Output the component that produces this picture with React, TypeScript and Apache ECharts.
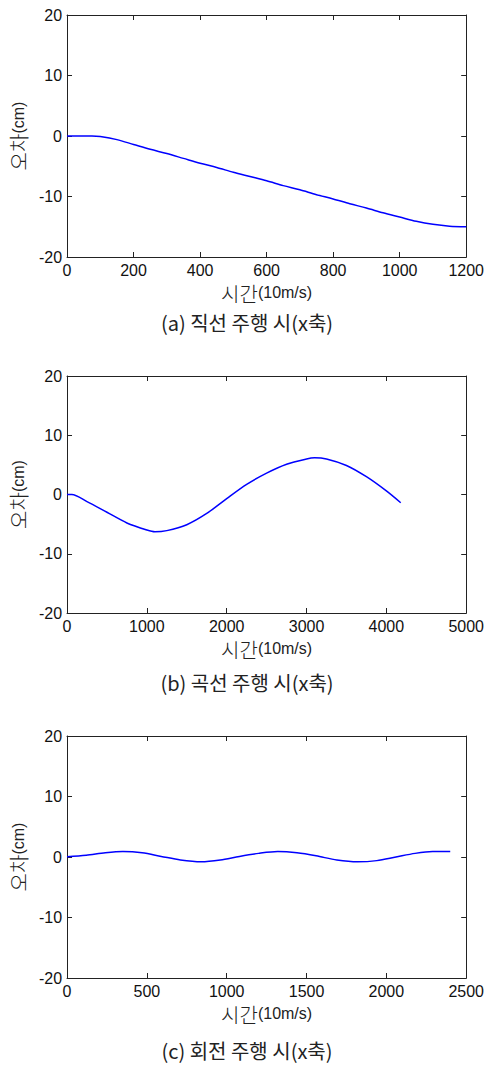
import React, { useEffect, useRef } from "react";
import * as echarts from "echarts";

// (a) 직선 주행 시(x축)
const straightX = [0, 50, 75, 100, 150, 200, 250, 300, 350, 400, 450, 500, 550, 600, 650, 700, 750, 800, 850, 900, 950, 1000, 1050, 1100, 1150, 1200];
const straightY = [0, 0, 0, -0.1, -0.6, -1.4, -2.2, -2.9, -3.7, -4.5, -5.2, -6.0, -6.7, -7.4, -8.2, -8.9, -9.7, -10.4, -11.2, -11.9, -12.7, -13.4, -14.1, -14.6, -14.9, -15.0];

// (b) 곡선 주행 시(x축)
const curveX = [0, 60, 250, 500, 750, 1000, 1100, 1250, 1500, 1750, 2000, 2250, 2500, 2750, 3000, 3100, 3250, 3500, 3750, 4000, 4180];
const curveY = [0, 0, -1.2, -3.0, -4.8, -6.0, -6.3, -6.1, -5.1, -3.2, -0.7, 1.7, 3.6, 5.1, 6.0, 6.2, 6.0, 4.9, 3.0, 0.6, -1.4];

// (c) 회전 주행 시(x축)
const rotX = [0, 120, 240, 350, 470, 590, 710, 840, 960, 1080, 1200, 1320, 1440, 1560, 1690, 1820, 1940, 2060, 2180, 2290, 2400];
const rotY = [0.05, 0.3, 0.7, 0.9, 0.7, 0.1, -0.5, -0.8, -0.5, 0.1, 0.6, 0.9, 0.7, 0.2, -0.5, -0.8, -0.6, 0.0, 0.6, 0.9, 0.9];

const xMax = [1200, 5000, 2500];
const xInterval = [200, 1000, 500];
const yTicks = { min: -20, max: 20, interval: 10 };
const captions = ["(a) 직선 주행 시(x축)", "(b) 곡선 주행 시(x축)", "(c) 회전 주행 시(x축)"];

const grids = [
  { left: 67, top: 15, width: 403, height: 242 },
  { left: 64, top: 376, width: 403, height: 237 },
  { left: 64, top: 736, width: 409, height: 242 },
];
const captionY = [322, 682, 1050];

export default function App() {
  const ref = useRef<HTMLDivElement>(null);
  useEffect(() => {
    document.body.style.margin = "0";
    const chart = echarts.init(ref.current!, null, { renderer: "svg" });
    const labelFont = {
      fontFamily: "Liberation Sans, Arial, sans-serif",
      fontSize: 16,
      color: "#111",
      formatter: (v: number) => String(v),
    };
    const nameRich = {
      k: { fontFamily: "Noto Sans CJK KR", fontSize: 20, color: "#222", fontWeight: 300 as any },
      e: { fontFamily: "Liberation Sans, Arial", fontSize: 16, color: "#222" },
    };
    const series: any[] = [];
    const xAxis: any[] = [];
    const yAxis: any[] = [];
    const datasets = [
      straightX.map((x, i) => [x, straightY[i]]),
      curveX.map((x, i) => [x, curveY[i]]),
      rotX.map((x, i) => [x, rotY[i]]),
    ];
    for (let g = 0; g < 3; g++) {
      const baseX = {
        type: "value",
        gridIndex: g,
        min: 0,
        max: xMax[g],
        interval: xInterval[g],
        splitLine: { show: false },
        axisLine: { show: true, onZero: false, lineStyle: { color: "#222", width: 1 } },
        axisTick: { show: true, inside: true, length: 5, lineStyle: { color: "#222" } },
      };
      xAxis.push({
        ...baseX,
        position: "bottom",
        axisLabel: { ...labelFont, margin: 5 },
        name: "{k|시간}{e|(10m/s)}",
        nameLocation: "middle",
        nameGap: 26,
        nameTextStyle: { rich: nameRich, color: "#222" },
      });
      xAxis.push({ ...baseX, position: "top", axisLabel: { show: false } });
      const baseY = {
        type: "value",
        gridIndex: g,
        min: yTicks.min,
        max: yTicks.max,
        interval: yTicks.interval,
        splitLine: { show: false },
        axisLine: { show: true, onZero: false, lineStyle: { color: "#222", width: 1 } },
        axisTick: { show: true, inside: true, length: 5, lineStyle: { color: "#222" } },
      };
      yAxis.push({
        ...baseY,
        position: "left",
        axisLabel: { ...labelFont, margin: 5 },
        name: "{k|오차}{e|(cm)}",
        nameLocation: "middle",
        nameGap: 39,
        nameRotate: 90,
        nameTextStyle: { rich: nameRich, color: "#222" },
      });
      yAxis.push({ ...baseY, position: "right", axisLabel: { show: false } });
      series.push({
        type: "line",
        xAxisIndex: 2 * g,
        yAxisIndex: 2 * g,
        data: datasets[g],
        showSymbol: false,
        smooth: 0.3,
        lineStyle: { color: "#0000ff", width: 1.5 },
      });
    }
    chart.setOption({
      animation: false,
      backgroundColor: "#fff",
      grid: grids.map((g) => ({ ...g, containLabel: false })),
      xAxis,
      yAxis,
      series,
      graphic: captions.map((c, i) => ({
        type: "text",
        x: 247,
        y: captionY[i],
        style: {
          text: c,
          fontFamily: "Noto Sans CJK KR",
          fontSize: 20,
          fill: "#222",
          align: "center",
          verticalAlign: "middle",
        },
      })),
    });
    return () => chart.dispose();
  }, []);
  return <div ref={ref} style={{ width: 487, height: 1065 }} />;
}
